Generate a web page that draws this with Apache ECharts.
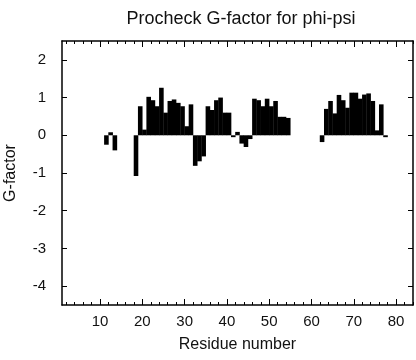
<!DOCTYPE html>
<html>
<head>
<meta charset="utf-8">
<script src="https://cdn.jsdelivr.net/npm/echarts@6/dist/echarts.min.js"></script>
<style>html,body{margin:0;padding:0;background:#fff}#c{width:416px;height:360px}</style>
</head>
<body>
<div id="c"></div>
<script>
// Residue numbers and their phi-psi G-factor values
var residues = [11,12,13,
  18,19,20,21,22,23,24,25,26,27,28,29,30,31,32,33,34,35,36,37,38,39,40,
  41,42,43,44,45,46,47,48,49,50,51,52,53,54,
  62,63,64,65,66,67,68,69,70,71,72,73,74,75,76,77];
var gfactor = [-0.25,0.08,-0.40,
  -1.08,0.77,0.15,1.02,0.93,0.77,1.26,0.60,0.91,0.95,0.86,0.77,0.24,0.82,-0.81,-0.69,-0.56,0.77,0.67,0.93,1.00,0.60,0.60,
  -0.05,0.09,-0.22,-0.31,-0.10,0.97,0.93,0.77,0.97,0.77,0.91,0.49,0.49,0.46,
  -0.18,0.70,0.91,0.58,1.07,0.93,0.73,1.13,1.13,0.97,1.08,1.11,0.91,0.13,0.82,-0.05];
var xTickLabels = [10,20,30,40,50,60,70,80];
var xMinorTicks = [2,4,6,8,10,12,14,16,18,20,22,24,26,28,30,32,34,36,38,40,42,44,46,48,50,52,54,56,58,60,62,64,66,68,70,72,74,76,78,80,82,84];
var yTickLabels = [-4,-3,-2,-1,0,1,2];

var FONT = 'Liberation Sans, Arial, Helvetica, sans-serif';
var INK = '#000';
var X_MIN = 1, X_MAX = 84, Y_MIN = -4.5, Y_MAX = 2.5;

function xAx(pos, ticks, len, withLabels, showLine){
  var a = {
    type:'value', position:pos, min:X_MIN, max:X_MAX,
    splitLine:{show:false},
    axisLine:{show:showLine, onZero:false, lineStyle:{color:INK, width:1.5}},
    axisTick:{show:true, inside:true, length:len, customValues:ticks, lineStyle:{color:INK, width:1}},
    axisLabel:{show:withLabels, customValues:xTickLabels, fontFamily:FONT, fontSize:15, color:'#111', margin:9}
  };
  if (withLabels) {
    a.name = 'Residue number'; a.nameLocation='middle'; a.nameGap=32; a.nameMoveOverlap=false;
    a.nameTextStyle = {fontFamily:FONT, fontSize:16, color:'#111'};
  }
  return a;
}
function yAx(pos, withLabels){
  var a = {
    type:'value', position:pos, min:Y_MIN, max:Y_MAX,
    splitLine:{show:false},
    axisLine:{show:true, onZero:false, lineStyle:{color:INK, width:1.5}},
    axisTick:{show:true, inside:true, length:5, customValues:yTickLabels, lineStyle:{color:INK, width:1}},
    axisLabel:{show:withLabels, customValues:yTickLabels, fontFamily:FONT, fontSize:15, color:'#111', margin:16}
  };
  if (withLabels) {
    a.name = 'G-factor'; a.nameLocation='middle'; a.nameGap=43; a.nameRotate=90; a.nameMoveOverlap=false;
    a.nameTextStyle = {fontFamily:FONT, fontSize:16, color:'#111'};
  }
  return a;
}

var chart = echarts.init(document.getElementById('c'), null, {renderer:'canvas'});
chart.setOption({
  animation:false,
  backgroundColor:'#fff',
  title:{text:'Procheck G-factor for phi-psi', left:236, top:5, textAlign:'center',
    textStyle:{fontFamily:FONT, fontSize:18, fontWeight:'normal', color:'#111'}},
  grid:{left:62, right:3, top:41, bottom:55, containLabel:false, outerBoundsMode:'none'},
  xAxis:[
    xAx('bottom', xTickLabels, 6, true, true),
    xAx('bottom', xMinorTicks, 3, false, false),
    xAx('top', xTickLabels, 6, false, true),
    xAx('top', xMinorTicks, 3, false, false)
  ],
  yAxis:[ yAx('left', true), yAx('right', false) ],
  series:[{
    type:'bar', xAxisIndex:0, yAxisIndex:0,
    barWidth:4.6,
    itemStyle:{color:INK},
    // each residue's bar spans residue .. residue+1, as in the reference plot
    data: residues.map(function(r,i){ return [r + 0.5, gfactor[i]]; })
  }]
});
</script>
</body>
</html>
